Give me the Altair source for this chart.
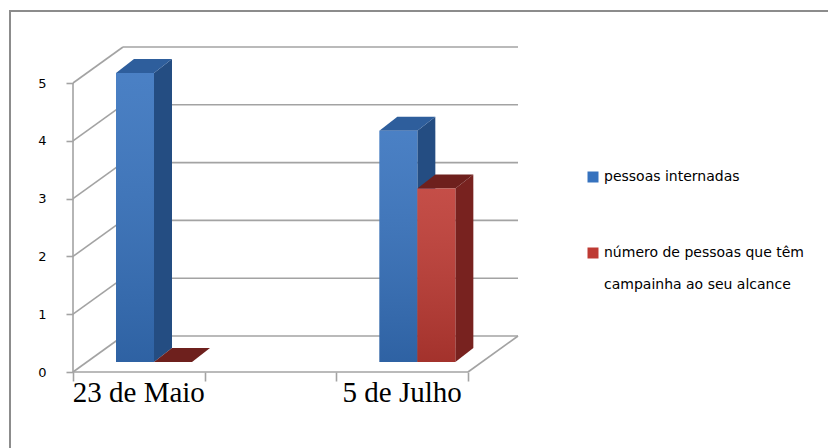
import altair as alt
import pandas as pd

# ---------------- data ----------------
categories = ["23 de Maio", "", "5 de Julho"]
series_names = ["pessoas internadas",
                "número de pessoas que têm campainha ao seu alcance"]
pessoas_internadas = [5, None, 4]
pessoas_com_campainha = [0, None, 3]
y_tick_values = [0, 1, 2, 3, 4, 5]

series_values = [pessoas_internadas, pessoas_com_campainha]

# ---------------- style ----------------
front_colors = ["#3672BE", "#BE3A33"]
side_colors = ["#244D82", "#78221F"]
top_colors = ["#2E5E9C", "#6E201D"]
grid_color = "#A3A3A3"
frame_color = "#8C8C8C"

W, H = 755, 325                      # plot area
PAD = {"left": 73, "top": 47, "right": 0, "bottom": 76}
PY = 57.8                            # px per value unit
BAND_PX = 131.67                     # px per category band
ux = lambda px: px / BAND_PX
uy = lambda px: px / PY

WDX, WDY = ux(50), uy(36)            # wall depth
BDX, BDY = ux(18), uy(14)            # bar depth
LIFT = uy(10)                        # bar front plane lift
BAR_START, BAR_W = 43, 38            # px inside band
n_bands = len(categories)

xs = alt.Scale(domain=[0, W / BAND_PX], nice=False, zero=False)
ys = alt.Scale(domain=[0, 5 + WDY], nice=False, zero=False)

x_axis = alt.Axis(values=list(range(n_bands + 1)), labels=False, domain=False,
                  grid=False, ticks=True, tickSize=9, tickColor=grid_color,
                  tickWidth=1.6, title=None)
y_axis = alt.Axis(values=y_tick_values, domain=False, grid=False, ticks=True,
                  tickSize=7, tickColor=grid_color, tickWidth=1.6, labelPadding=20,
                  labelFont="DejaVu Sans", labelFontSize=13, labelColor="#000000",
                  title=None)

# ---------------- derived geometry tables ----------------
front, side, top = [], [], []
fid = 0
for i, cat in enumerate(categories):
    for j, name in enumerate(series_names):
        v = series_values[j][i]
        if v is None:
            continue
        x0 = i + ux(BAR_START + BAR_W * j)
        x1 = x0 + ux(BAR_W)
        y0, y1 = LIFT, v + LIFT
        front.append(dict(category=cat, series=name, x0=x0, x1=x1, y0=y0, y1=y1))
        side.append(dict(face=fid, fill=side_colors[j], x=x1, lo=y0, hi=y1))
        side.append(dict(face=fid, fill=side_colors[j], x=x1 + BDX, lo=y0 + BDY, hi=y1 + BDY))
        top.append(dict(face=fid, fill=top_colors[j], y=y1, l=x0, r=x1))
        top.append(dict(face=fid, fill=top_colors[j], y=y1 + BDY, l=x0 + BDX, r=x1 + BDX))
        fid += 1

lines = []
for v in y_tick_values:
    lines.append(dict(x=WDX, x2=n_bands + WDX, y=v + WDY, y2=v + WDY))
    lines.append(dict(x=0, x2=WDX, y=v, y2=v + WDY))
lines.append(dict(x=0, x2=n_bands, y=0, y2=0))
lines.append(dict(x=n_bands, x2=n_bands + WDX, y=0, y2=WDY))
lines.append(dict(x=0, x2=0, y=0, y2=5))

labels = [dict(x=i + 0.5, y=0, text=c) for i, c in enumerate(categories) if c]

df_front = pd.DataFrame(front)
df_side = pd.DataFrame(side)
df_top = pd.DataFrame(top)
df_lines = pd.DataFrame(lines)
df_labels = pd.DataFrame(labels)
one = pd.DataFrame({"a": [0]})

# ---------------- layers ----------------
frame_left = alt.Chart(one).mark_rule(color=frame_color, strokeWidth=2).encode(
    x=alt.value(-63), y=alt.value(-36), y2=alt.value(H + PAD["bottom"]))
frame_top = alt.Chart(one).mark_rule(color=frame_color, strokeWidth=2).encode(
    x=alt.value(-64), x2=alt.value(W), y=alt.value(-36))

grid = alt.Chart(df_lines).mark_rule(color=grid_color, strokeWidth=1.6).encode(
    x=alt.X("x:Q", scale=xs, axis=x_axis), x2="x2:Q",
    y=alt.Y("y:Q", scale=ys, axis=y_axis), y2="y2:Q")

sides = alt.Chart(df_side).mark_area(opacity=1, strokeWidth=0).encode(
    x=alt.X("x:Q", scale=xs, axis=x_axis),
    y=alt.Y("lo:Q", scale=ys, axis=y_axis), y2="hi:Q",
    fill=alt.Fill("fill:N", scale=None),
    detail="face:N")

tops = alt.Chart(df_top).mark_area(opacity=1, strokeWidth=0, orient="horizontal").encode(
    y=alt.Y("y:Q", scale=ys, axis=y_axis),
    x=alt.X("l:Q", scale=xs, axis=x_axis), x2="r:Q",
    fill=alt.Fill("fill:N", scale=None),
    detail="face:N")

# legend label of the 2nd series wrapped on two lines with a blank spacer line
wrap_expr = ("datum.label == '%s' ? ['número de pessoas que têm', '\u2800', "
             "'campainha ao seu alcance'] : datum.label") % series_names[1]

fronts = alt.Chart(df_front).mark_rect(opacity=1, strokeWidth=0).encode(
    x=alt.X("x0:Q", scale=xs, axis=x_axis), x2="x1:Q",
    y=alt.Y("y0:Q", scale=ys, axis=y_axis), y2="y1:Q",
    color=alt.Color("series:N",
                    scale=alt.Scale(domain=series_names, range=front_colors),
                    legend=alt.Legend(
                        title=None, orient="none", legendX=513, legendY=123,
                        symbolType="square", symbolSize=121, symbolStrokeWidth=0,
                        symbolOpacity=1, labelFont="DejaVu Sans", labelFontSize=14,
                        labelColor="#000000", labelLimit=320, labelOffset=4,
                        rowPadding=62, padding=0, labelExpr=wrap_expr)))

grad = alt.Chart(df_front).mark_rect(
    strokeWidth=0,
    fill={"gradient": "linear", "x1": 0, "y1": 0, "x2": 0, "y2": 1,
          "stops": [{"offset": 0, "color": "rgba(255,255,255,0.10)"},
                    {"offset": 1, "color": "rgba(0,0,0,0.14)"}]}).encode(
    x=alt.X("x0:Q", scale=xs, axis=x_axis), x2="x1:Q",
    y=alt.Y("y0:Q", scale=ys, axis=y_axis), y2="y1:Q")

cat_labels = alt.Chart(df_labels).mark_text(
    font="Liberation Serif", fontSize=29, baseline="alphabetic", dy=30,
    align="center", color="#000000").encode(
    x=alt.X("x:Q", scale=xs, axis=x_axis),
    y=alt.Y("y:Q", scale=ys, axis=y_axis),
    text="text:N")

chart = alt.layer(grid, sides, tops, fronts, grad, cat_labels, frame_left, frame_top).properties(
    width=W, height=H, padding=PAD,
    autosize=alt.AutoSizeParams(type="none"),
    background="#ffffff",
).configure_view(strokeWidth=0)

chart.save("out.html", embed_options={"renderer": "svg", "actions": False})
